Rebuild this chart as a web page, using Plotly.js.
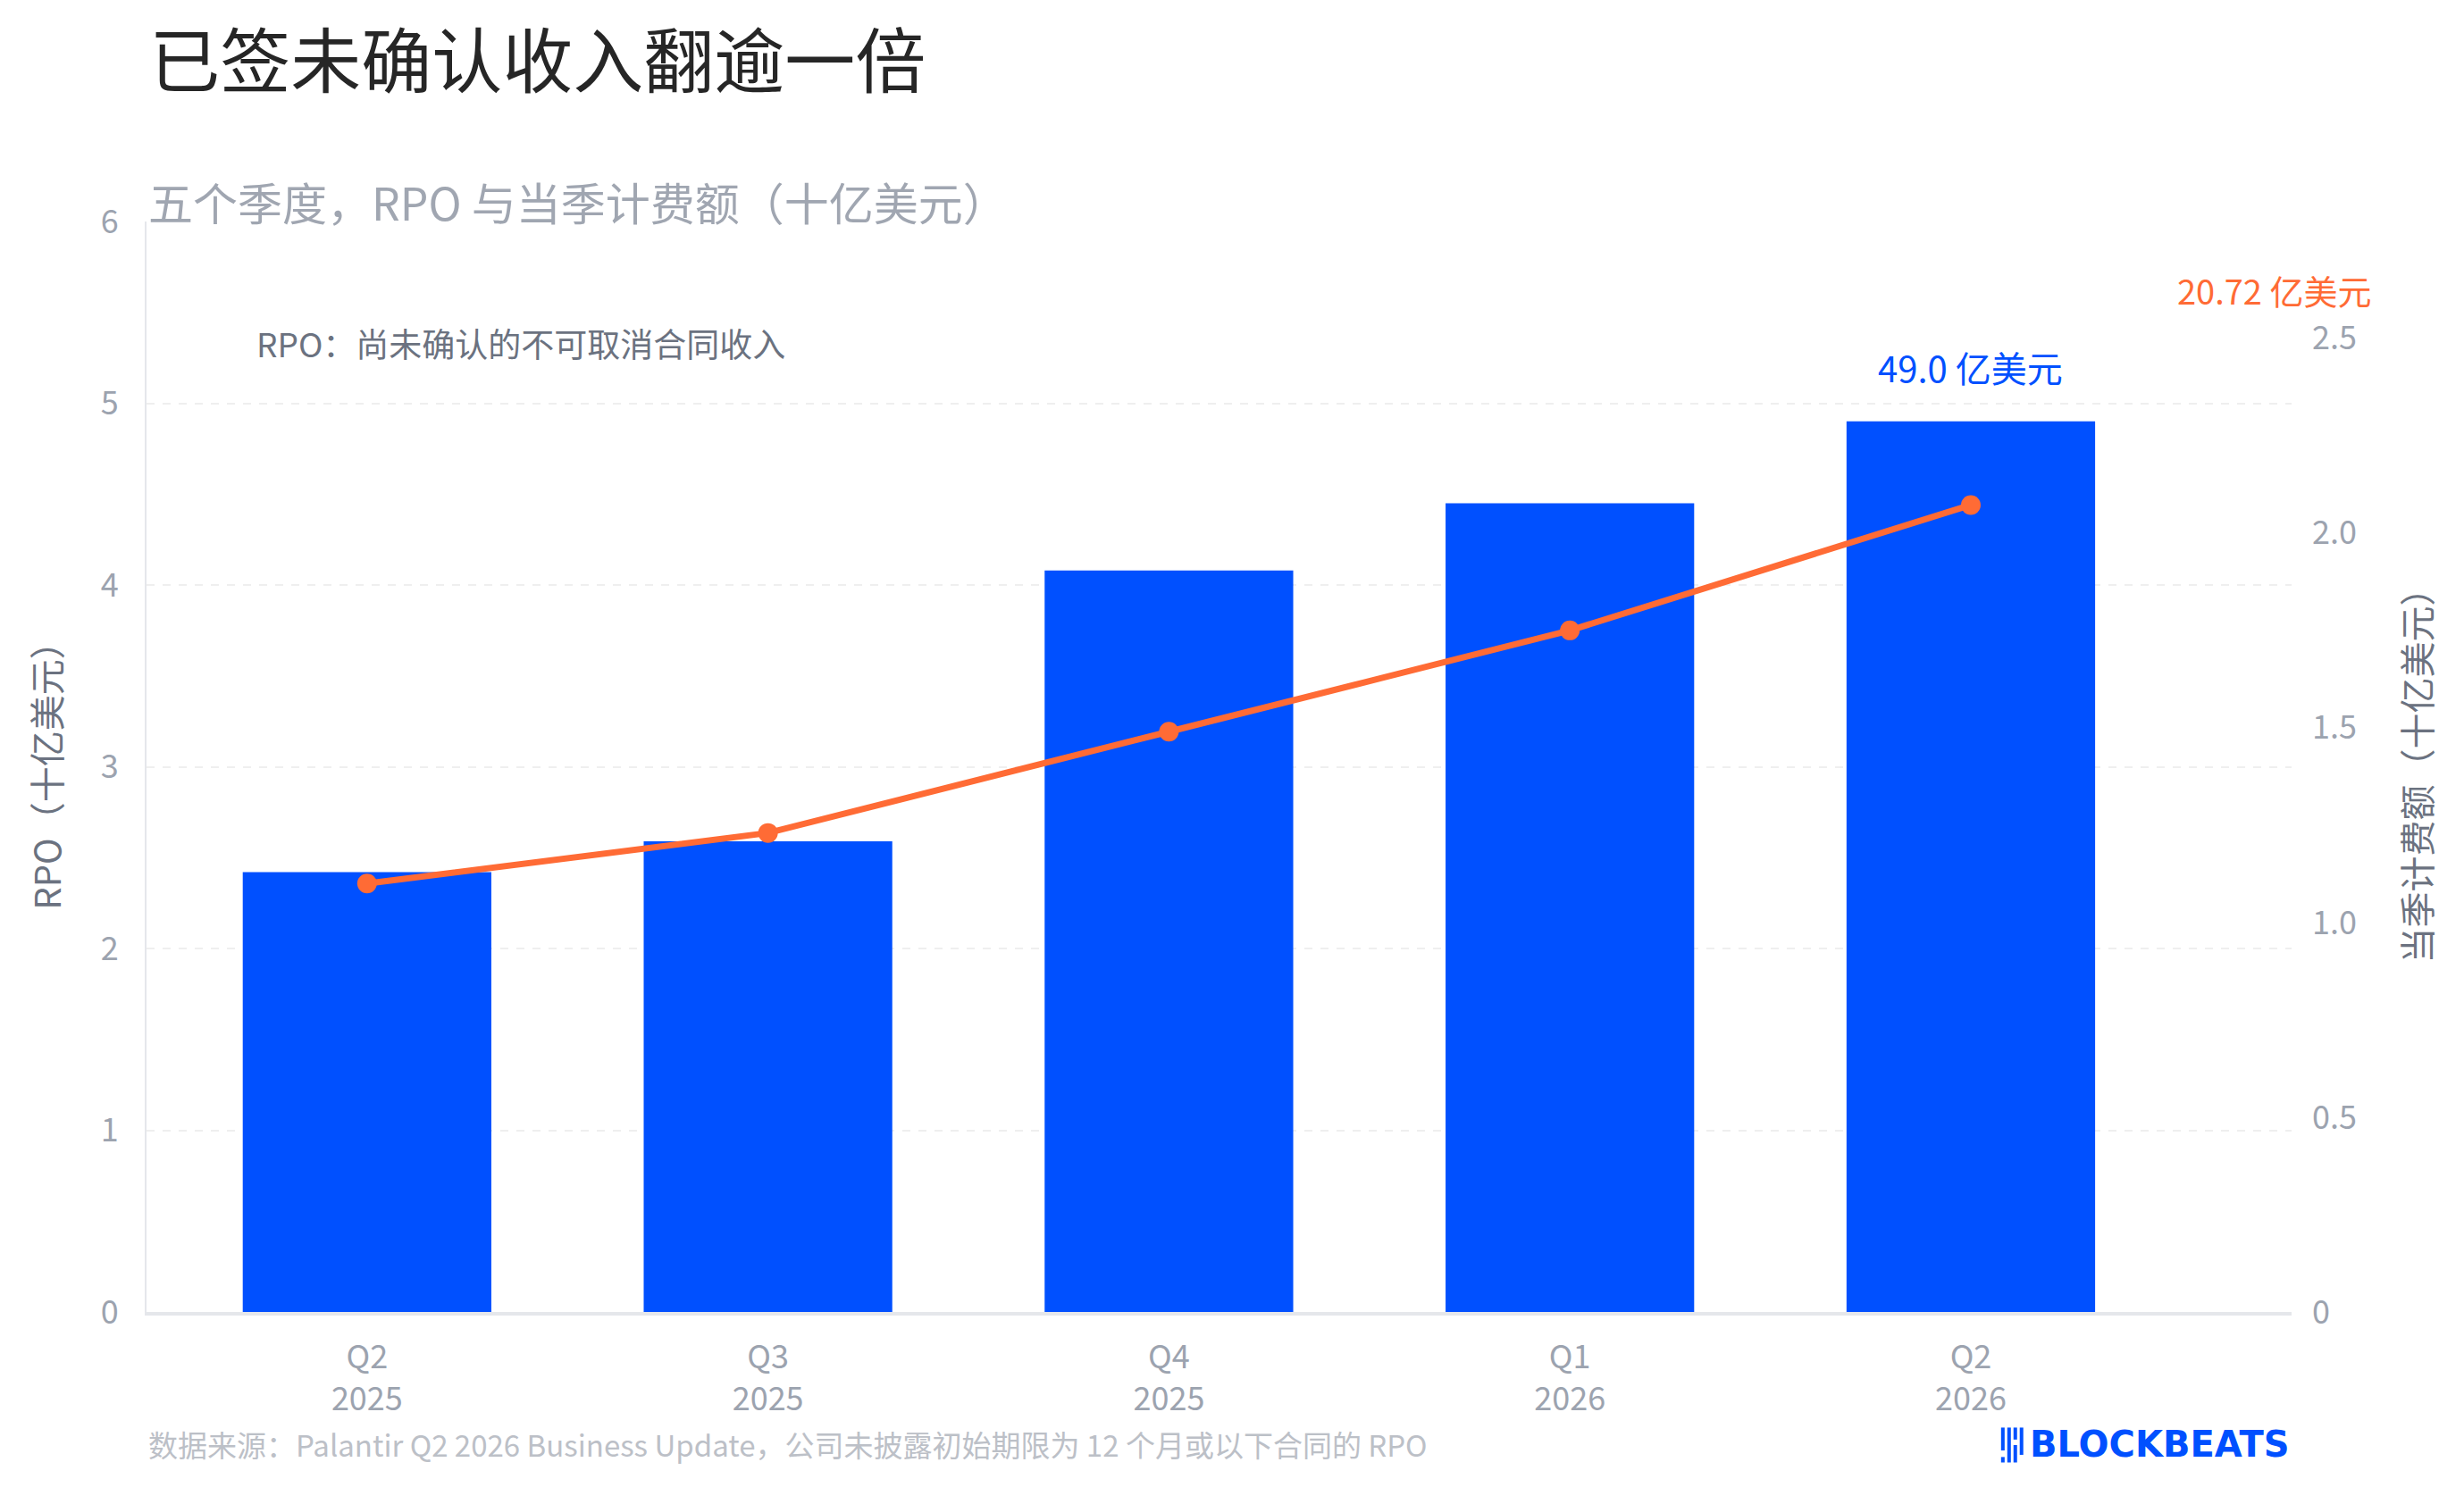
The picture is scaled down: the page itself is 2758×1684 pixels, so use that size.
<!DOCTYPE html>
<html>
<head>
<meta charset="utf-8">
<script src="https://cdn.plot.ly/plotly-3.0.1.min.js"></script>
<style>
  html, body { margin: 0; padding: 0; background: #ffffff; }
  #chart { width: 2758px; height: 1684px; }
</style>
</head>
<body>
<div id="chart"></div>
<script>
// quarters and values (billion USD)
const quarters = ['Q2<br>2025', 'Q3<br>2025', 'Q4<br>2025', 'Q1<br>2026', 'Q2<br>2026']
const rpo = [2.42, 2.59, 4.08, 4.45, 4.90]
const billings = [1.10, 1.23, 1.49, 1.75, 2.072]
const rightTicks = [0, 0.5, 1.0, 1.5, 2.0, 2.5]
const rightTickText = ['0', '0.5', '1.0', '1.5', '2.0', '2.5']

const font = 'Noto Sans CJK SC, Noto Sans, sans-serif'
const blue = '#0050ff'
const orange = '#ff6b35'
const tickGray = '#9ca3af'
const titleGray = '#6b7280'

const last = quarters.length - 1

let data = [
    {
        x: quarters,
        y: rpo,
        type: 'bar',
        name: 'RPO',
        marker: {color: blue},
        hoverinfo: 'skip'
    },
    {
        x: quarters,
        y: billings,
        yaxis: 'y2',
        type: 'scatter',
        mode: 'lines+markers',
        name: '当季计费额',
        line: {color: orange, width: 7},
        marker: {color: orange, size: 22},
        hoverinfo: 'skip'
    }
]

let layout = {
    width: 2758,
    height: 1684,
    paper_bgcolor: '#ffffff',
    plot_bgcolor: '#ffffff',
    showlegend: false,
    bargap: 0.38,
    margin: {l: 164, r: 193, t: 248, b: 215},
    font: {family: font, color: tickGray, size: 36},
    title: {
        text: '已签未确认收入翻逾一倍',
        x: 0.0606,
        xanchor: 'left',
        xref: 'container',
        y: 0.958,
        yanchor: 'middle',
        yref: 'container',
        font: {family: font, size: 79, color: '#262626'}
    },
    xaxis: {
        type: 'category',
        range: [-0.55, 4.8],
        showline: true,
        linecolor: '#e5e7eb',
        linewidth: 4,
        showgrid: false,
        ticks: '',
        ticklabelstandoff: 16,
        tickfont: {family: font, size: 36, color: tickGray}
    },
    yaxis: {
        range: [0, 6],
        dtick: 1,
        showline: true,
        linecolor: '#e5e7eb',
        linewidth: 2,
        zeroline: false,
        gridcolor: '#efefef',
        gridwidth: 2,
        griddash: 'dash',
        ticks: '',
        ticklabelstandoff: 22,
        tickfont: {family: font, size: 36, color: tickGray},
        title: {
            text: 'RPO（十亿美元）',
            standoff: 32,
            font: {family: font, size: 40, color: titleGray}
        }
    },
    yaxis2: {
        overlaying: 'y',
        side: 'right',
        range: [0, 2.8],
        tickvals: rightTicks,
        ticktext: rightTickText,
        showgrid: false,
        showline: false,
        zeroline: false,
        ticks: '',
        ticklabelstandoff: 22,
        tickfont: {family: font, size: 36, color: tickGray},
        title: {
            text: '当季计费额（十亿美元）',
            standoff: 56,
            font: {family: font, size: 40, color: titleGray}
        }
    },
    annotations: [{
        xref: 'paper', yref: 'paper',
        x: 0, xanchor: 'left',
        y: 1.019, yanchor: 'middle',
        text: '五个季度，RPO 与当季计费额（十亿美元）',
        showarrow: false,
        font: {family: font, size: 50, color: '#a0a6b1'}
    }, {
        xref: 'paper', yref: 'paper',
        x: 0.0504, xanchor: 'left',
        y: 0.889, yanchor: 'middle',
        text: 'RPO：尚未确认的不可取消合同收入',
        showarrow: false,
        font: {family: font, size: 37, color: titleGray}
    }, {
        x: quarters[last],
        y: rpo[last],
        xref: 'x', yref: 'y',
        yanchor: 'bottom',
        yshift: 30,
        text: (rpo[last] * 10).toFixed(1) + ' 亿美元',
        showarrow: false,
        font: {family: font, size: 40, color: blue}
    }, {
        xref: 'paper', yref: 'paper',
        x: 1.038, xanchor: 'right',
        y: 0.937, yanchor: 'middle',
        text: (billings[last] * 10).toFixed(2) + ' 亿美元',
        showarrow: false,
        font: {family: font, size: 38, color: orange}
    }, {
        xref: 'paper', yref: 'paper',
        x: 0, xanchor: 'left',
        y: -0.121, yanchor: 'middle',
        text: '数据来源：Palantir Q2 2026 Business Update，公司未披露初始期限为 12 个月或以下合同的 RPO',
        showarrow: false,
        font: {family: font, size: 33, color: '#bcc0c7'}
    }, {
        xref: 'paper', yref: 'paper',
        x: 1, xanchor: 'right',
        y: -0.121, yanchor: 'middle',
        text: '<b>BLOCKBEATS</b>',
        showarrow: false,
        font: {family: 'DejaVu Sans, sans-serif', size: 40, color: blue}
    }],
    // little bar-code mark in front of the logo text
    shapes: [
        {type: 'line', xref: 'paper', yref: 'paper', x0: 0.8654, x1: 0.8654, y0: -0.106, y1: -0.127, line: {color: blue, width: 4}},
        {type: 'line', xref: 'paper', yref: 'paper', x0: 0.8654, x1: 0.8654, y0: -0.133, y1: -0.138, line: {color: blue, width: 4}},
        {type: 'line', xref: 'paper', yref: 'paper', x0: 0.8683, x1: 0.8683, y0: -0.106, y1: -0.138, line: {color: blue, width: 4}},
        {type: 'line', xref: 'paper', yref: 'paper', x0: 0.8712, x1: 0.8712, y0: -0.106, y1: -0.117, line: {color: blue, width: 4}},
        {type: 'line', xref: 'paper', yref: 'paper', x0: 0.8712, x1: 0.8712, y0: -0.122, y1: -0.138, line: {color: blue, width: 4}},
        {type: 'line', xref: 'paper', yref: 'paper', x0: 0.8741, x1: 0.8741, y0: -0.106, y1: -0.131, line: {color: blue, width: 4}}
    ]
}

Plotly.newPlot('chart', data, layout, {displayModeBar: false, responsive: false})
</script>
</body>
</html>
